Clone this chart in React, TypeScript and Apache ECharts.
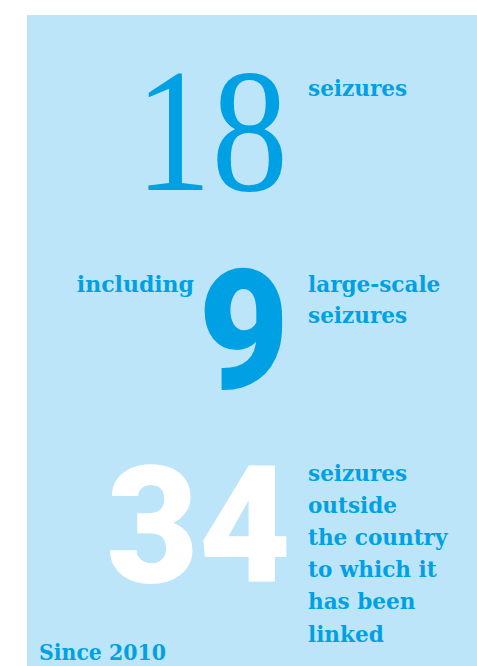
import React, { useEffect, useRef } from "react";
import * as echarts from "echarts";

const bigNumbers = ["18", "9", "34"];
const leftLabels = ["", "including", ""];
const rightLabels = [
  ["seizures"],
  ["large-scale", "seizures"],
  ["seizures", "outside", "the country", "to which it", "has been", "linked"],
];
const footnote = "Since 2010";

const BLUE = "#00a1e4";
const BG = "#bde5f9";
const SLAB = "'DejaVu Serif', serif";

export default function App() {
  const ref = useRef<HTMLDivElement>(null);
  useEffect(() => {
    if (!ref.current) return;
    const chart = echarts.init(ref.current, undefined, { renderer: "svg" });
    const graphic: any[] = [];
    graphic.push({ type: "rect", shape: { x: 27, y: 15, width: 460, height: 660 }, style: { fill: BG }, silent: true });
    // big numbers
    graphic.push({
      type: "text", x: 288, y: 219, scaleX: 0.87,
      style: { text: bigNumbers[0], fill: BLUE, font: "normal 176px 'Liberation Serif', serif", align: "right", verticalAlign: "bottom" },
    });
    graphic.push({
      type: "text", x: 289, y: 331, scaleX: 0.93,
      style: { text: bigNumbers[1], fill: BLUE, font: "900 168px Roboto, sans-serif", align: "right", verticalAlign: "middle" },
    });
    graphic.push({
      type: "text", x: 291, y: 526, scaleX: 0.97,
      style: { text: bigNumbers[2], fill: "#ffffff", font: "900 164px Roboto, sans-serif", align: "right", verticalAlign: "middle" },
    });
    // left label
    graphic.push({
      type: "text", x: 194, y: 284,
      style: { text: leftLabels[1], fill: BLUE, font: `bold 22px ${SLAB}`, align: "right", verticalAlign: "middle" },
    });
    const starts = [88, 284, 473];
    rightLabels.forEach((lines, i) => {
      lines.forEach((t, j) => {
        graphic.push({
          type: "text", x: 308, y: starts[i] + j * (i === 2 ? 32.2 : 31), scaleX: 0.98,
          style: { text: t, fill: BLUE, font: `bold 22px ${SLAB}`, align: "left", verticalAlign: "middle" },
        });
      });
    });
    graphic.push({
      type: "text", x: 39, y: 652, scaleX: 0.93,
      style: { text: footnote, fill: BLUE, font: `bold 22px ${SLAB}`, align: "left", verticalAlign: "middle" },
    });
    chart.setOption({ animation: false, graphic });
    return () => chart.dispose();
  }, []);
  return <div ref={ref} style={{ position: "fixed", left: 0, top: 0, width: 477, height: 666, background: "#fff" }} />;
}
